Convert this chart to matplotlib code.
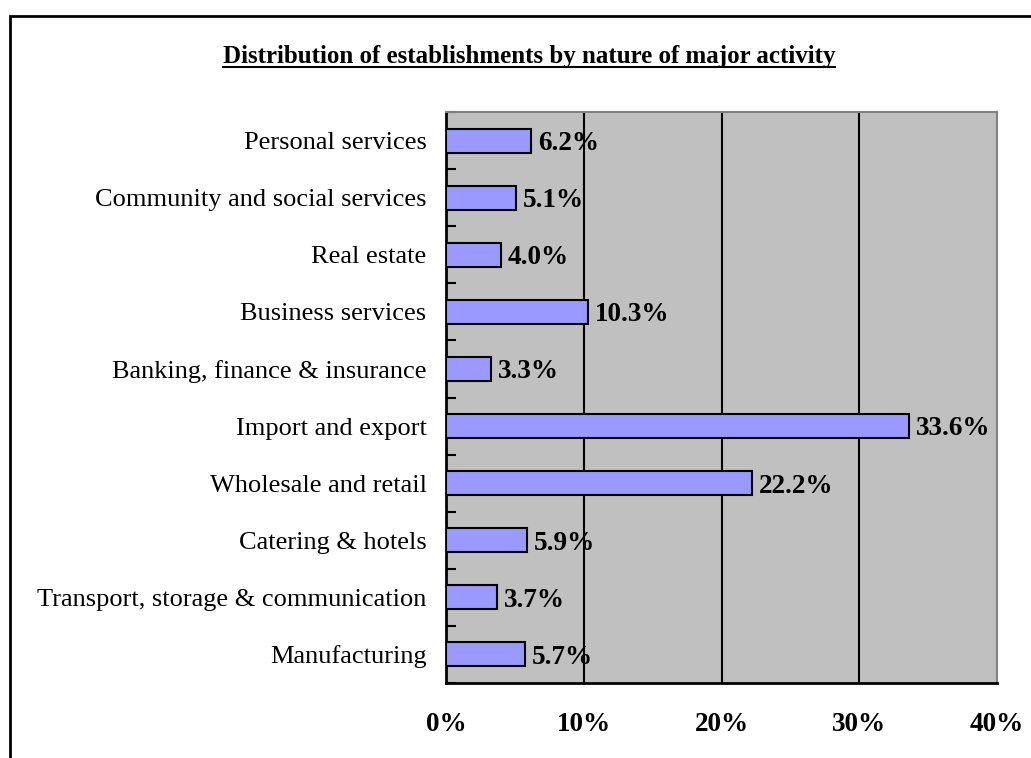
import matplotlib
matplotlib.use("Agg")
import matplotlib.pyplot as plt
from matplotlib.patches import Rectangle
from matplotlib.lines import Line2D

categories = ["Manufacturing", "Transport, storage & communication", "Catering & hotels",
              "Wholesale and retail", "Import and export", "Banking, finance & insurance",
              "Business services", "Real estate", "Community and social services",
              "Personal services"]
values = [5.7, 3.7, 5.9, 22.2, 33.6, 3.3, 10.3, 4.0, 5.1, 6.2]
xticks = [0, 10, 20, 30, 40]
xtick_labels = ["0%", "10%", "20%", "30%", "40%"]
title = "Distribution of establishments by nature of major activity"

W, H = 1031, 758
fig = plt.figure(figsize=(W / 100, H / 100), dpi=100)
plt.rcParams['font.family'] = ['Liberation Serif', 'DejaVu Serif']

# outer frame
fig.patches.append(Rectangle((10 / W, -0.1), 1.2, (H - 16) / H + 0.1, transform=fig.transFigure,
                             fill=False, edgecolor='black', linewidth=2))

left, right, top, bottom = 446, 997, 112, 683
ax = fig.add_axes([left / W, 1 - bottom / H, (right - left) / W, (bottom - top) / H])
ax.set_facecolor('#C0C0C0')
n = len(categories)
ax.barh(range(n), values, height=0.42, color='#9999FF', edgecolor='black', linewidth=1.5, zorder=3)
ax.set_xlim(0, 40)
ax.set_ylim(-0.5, n - 0.5)
for x in xticks[1:-1]:
    ax.axvline(x, color='black', linewidth=1.5, zorder=2)
for i, v in enumerate(values):
    ax.text(v + 0.5, i - 0.05, f"{v:.1f}%", va='center', ha='left', fontsize=19.5, fontweight='bold', zorder=4)

ax.set_xticks(xticks)
ax.set_xticklabels(xtick_labels, fontsize=19.5, fontweight='bold')
ax.tick_params(axis='x', length=0, pad=21)
ax.set_yticks(range(n))
ax.set_yticklabels(categories, fontsize=19)
ax.tick_params(axis='y', length=0, pad=14)
ax.set_yticks([i - 0.5 for i in range(n + 1)], minor=True)
ax.tick_params(axis='y', which='minor', direction='in', length=7, width=1.5, color='black')
for s in ['top', 'right']:
    ax.spines[s].set_color('#808080')
    ax.spines[s].set_linewidth(1.5)
for s in ['left', 'bottom']:
    ax.spines[s].set_color('black')
    ax.spines[s].set_linewidth(2)

t = fig.text(529 / W, 1 - 57 / H, title, ha='center', va='center', fontsize=18, fontweight='bold')
fig.canvas.draw()
bb = t.get_window_extent(renderer=fig.canvas.get_renderer())
uy = bb.y0 + 2
fig.lines.append(Line2D([bb.x0 / W, bb.x1 / W], [uy / H, uy / H], transform=fig.transFigure,
                        color='black', linewidth=1.5))

fig.savefig("out.png", dpi=100)
